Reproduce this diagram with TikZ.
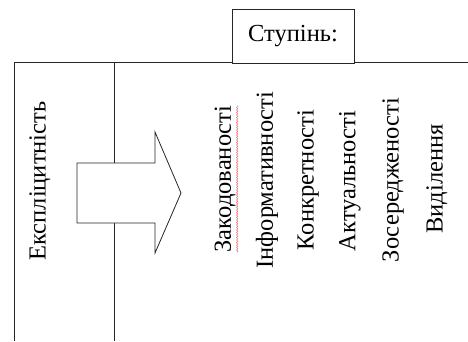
\documentclass[tikz,border=0pt]{standalone}
\usepackage{fontspec}
\setmainfont{Liberation Serif}
\usetikzlibrary{decorations.pathmorphing}
\begin{document}
\begin{tikzpicture}[x=1pt,y=-1pt,
  line/.style={draw=black!85,line width=0.8pt},
  word/.style={rotate=90,inner sep=0pt,font=\fontsize{24.5}{28}\selectfont}]
\useasboundingbox (0,0) rectangle (468,341);
% frame lines
\coordinate (hl) at (14,62);
\coordinate (hr) at (468,62);
\coordinate (lb) at (14,341);
\coordinate (ct) at (114,62);
\coordinate (cb) at (114,341);
\draw[line] (hr) -- (hl) -- (lb);
\draw[line] (ct) -- (cb);
% header box
\node[line,fill=white,minimum width=122pt,minimum height=54pt,inner sep=0pt,
  font=\fontsize{24.5}{28}\selectfont] (hdr) at (293,36) {Ступінь:};
% arrow
\draw[line,fill=white,line join=miter] (77,163) -- (155,163) -- (155,132) -- (181,193)
  -- (155,253) -- (155,223) -- (77,223) -- cycle;
% labels
\node[word] (expl) at (40,181) {Експліцитність};
\node[word] (w1) at (225,179) {Закодованості};
\node[word] (w2) at (267,180) {Інформативності};
\node[word] (w3) at (308,180) {Конкретності};
\node[word] (w4) at (350,181) {Актуальності};
\node[word] (w5) at (393,180) {Зосередженості};
\node[word] (w6) at (437,179) {Виділення};
\draw[red!60,line width=0.5pt,decorate,decoration={snake,amplitude=0.7pt,segment length=2.5pt}]
  ([xshift=1.5pt]w1.south east) -- ([xshift=1.5pt]w1.south west);
\end{tikzpicture}
\end{document}
